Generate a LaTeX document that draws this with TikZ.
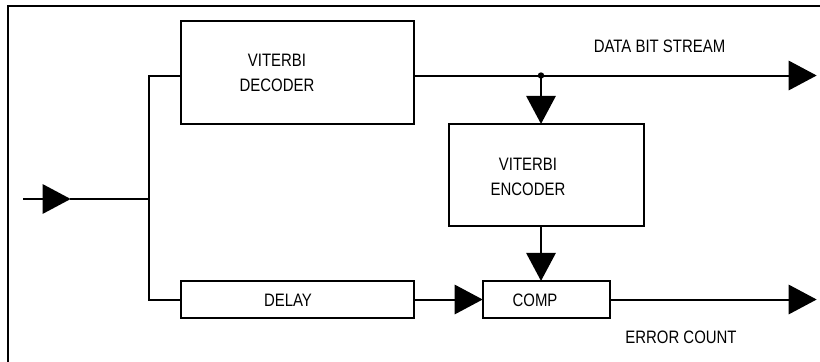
\documentclass[tikz,border=0pt]{standalone}
\usepackage{fontspec}
\setmainfont[FakeStretch=0.83]{Liberation Sans}
\usetikzlibrary{arrows.meta}
\begin{document}
\begin{tikzpicture}[x=0.75pt,y=-0.75pt,
  line width=1.5pt, line join=miter,
  blk/.style={draw, line width=1.5pt, inner sep=0pt},
  lbl/.style={inner sep=0pt, font=\fontsize{13.5}{18.5}\selectfont, align=center},
  tri/.style={-{Triangle[length=21pt,width=22pt]}, shorten >=-0.5pt},
  conn/.style={line width=1.5pt}]
\useasboundingbox (0,0) rectangle (820,361);
% frame (left and top edges)
\draw[line width=2pt] (8,400) -- (8,6) -- (830,6);
% blocks
\draw[blk] (180.5,21) rectangle (414,124) coordinate[pos=0.5] (decc);
\node (dec) at (297.25,72.5) [minimum width=233.5*0.75pt, minimum height=103*0.75pt, inner sep=0pt] {};
\node (enc) at (546.5,175) [blk, minimum width=195*0.75pt, minimum height=101.5*0.75pt] {};
\node (dly) at (297.25,299.5) [blk, minimum width=233.5*0.75pt, minimum height=36.5*0.75pt] {};
\node (cmp) at (546.5,299.5) [blk, minimum width=127*0.75pt, minimum height=36.5*0.75pt] {};
% labels
\node[lbl] (tdec) at (277,73) {VITERBI\\DECODER};
\node[lbl] (tenc) at (528,177) {VITERBI\\ENCODER};
\node[lbl] (tdly) at (288,300.5) {DELAY};
\node[lbl] (tcmp) at (535,300.5) {COMP};
\node[lbl] (tdata) at (659.5,46) {DATA BIT STREAM};
\node[lbl] (terr) at (681,337.5) {ERROR COUNT};
% coordinates
\coordinate (in) at (23,199);
\coordinate (intip) at (70,199);
\coordinate (split) at (149,199);
\coordinate (junc) at (541,75.5);
\coordinate (dataout) at (816,75.5);
\coordinate (errout) at (816,299.5);
% connectors
\draw[tri] (in) -- (intip);
\draw[conn] (intip) -- (split);
\draw[conn] (split) |- (dec.west |- 0,75.5);
\draw[conn] (split) |- (dly.west);
\draw[conn] (dec.east |- junc) -- (junc);
\draw[tri] (junc) -- (dataout);
\fill (junc) circle (3.2);
\draw[tri] (junc) -- (enc.north -| junc);
\draw[tri] (enc.south -| junc) -- (cmp.north -| junc);
\draw[tri] (dly.east) -- (cmp.west);
\draw[tri] (cmp.east) -- (errout);
\end{tikzpicture}
\end{document}
